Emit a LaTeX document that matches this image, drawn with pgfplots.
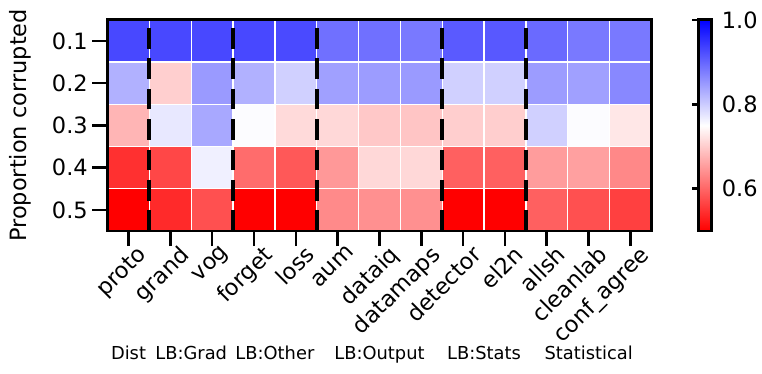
\documentclass[border=0pt]{standalone}
\usepackage{fontspec}
\setmainfont{DejaVu Sans}
\usepackage{pgfplots}
\pgfplotsset{compat=1.18}

% fraction of clean-label detection per method (rows: proportion corrupted)
\pgfplotstableread{
x y c
0 0 0.930
1 0 0.930
2 0 0.930
3 0 0.930
4 0 0.928
5 0 0.890
6 0 0.890
7 0 0.882
8 0 0.912
9 0 0.914
10 0 0.896
11 0 0.882
12 0 0.882
0 1 0.827
1 1 0.703
2 1 0.849
3 1 0.827
4 1 0.796
5 1 0.843
6 1 0.847
7 1 0.849
8 1 0.796
9 1 0.796
10 1 0.847
11 1 0.843
12 1 0.867
0 2 0.678
1 2 0.773
2 2 0.835
3 2 0.753
4 2 0.714
5 2 0.712
6 2 0.696
7 2 0.693
8 2 0.702
9 2 0.702
10 2 0.796
11 2 0.753
12 2 0.727
0 3 0.547
1 3 0.570
2 3 0.765
3 3 0.606
4 3 0.586
5 3 0.649
6 3 0.712
7 3 0.712
8 3 0.594
9 3 0.594
10 3 0.653
11 3 0.657
12 3 0.633
0 4 0.500
1 4 0.541
2 4 0.578
3 4 0.500
4 4 0.500
5 4 0.635
6 4 0.641
7 4 0.641
8 4 0.500
9 4 0.500
10 4 0.594
11 4 0.578
12 4 0.563
}\heat

\begin{document}
\begin{tikzpicture}
\begin{axis}[
    at={(0,0)}, anchor=south west,
    scale only axis,
    width=411.4pt, height=159.75pt,
    xmin=-0.5, xmax=12.5,
    ymin=-0.5, ymax=4.5,
    y dir=reverse,
    enlargelimits=false,
    clip=false,
    axis on top,
    axis line style={line width=2.2pt},
    tick style={black, line width=2pt},
    major tick length=11.5pt,
    tick align=outside,
    xtick pos=bottom, ytick pos=left,
    xtick={0,...,12},
    xticklabels={proto,grand,vog,forget,loss,aum,dataiq,datamaps,detector,el2n,allsh,cleanlab,conf\_agree},
    xticklabel style={rotate=45, anchor=north east, inner sep=1pt, xshift=6.5pt, yshift=-2pt},
    ytick={0,...,4},
    yticklabels={0.1,0.2,0.3,0.4,0.5},
    ticklabel style={font=\fontsize{17}{20}\selectfont},
    ylabel={Proportion corrupted},
    ylabel style={at={(axis description cs:-0.16,0.5)}, anchor=center, font=\fontsize{17}{20}\selectfont},
    colormap={bwr}{rgb=(1,0,0) rgb=(1,1,1) rgb=(0,0,1)},
    point meta min=0.5, point meta max=1.0,
    colorbar,
    colorbar style={
        at={(parent axis.north east)}, anchor=north west, xshift=27pt,
        scale only axis,
        width=9.75pt, height=159.75pt,
        axis line style={line width=2.2pt},
        ytick={0.6,0.8,1.0},
        yticklabels={0.6,0.8,1.0},
        yticklabel pos=right,
        ytick pos=left,
        major tick length=4.5pt,
        tick align=outside,
        tick style={black, line width=2pt},
        yticklabel style={font=\fontsize{17}{20}\selectfont},
    },
]
\addplot[matrix plot*, mesh/cols=13, mesh/rows=5, point meta=explicit,
    draw=white, line width=1pt] table[meta=c] {\heat};

% group separators
\addplot[black, line width=3pt, dash pattern=on 15.5pt off 7.5pt] coordinates {(0.5,4.5) (0.5,-0.5)};
\addplot[black, line width=3pt, dash pattern=on 15.5pt off 7.5pt] coordinates {(2.5,4.5) (2.5,-0.5)};
\addplot[black, line width=3pt, dash pattern=on 15.5pt off 7.5pt] coordinates {(4.5,4.5) (4.5,-0.5)};
\addplot[black, line width=3pt, dash pattern=on 15.5pt off 7.5pt] coordinates {(7.5,4.5) (7.5,-0.5)};
\addplot[black, line width=3pt, dash pattern=on 15.5pt off 7.5pt] coordinates {(9.5,4.5) (9.5,-0.5)};

% group names
\node[anchor=base, yshift=-97.5pt, font=\fontsize{13.5}{16}\selectfont] at (axis cs:0,4.5) {Dist};
\node[anchor=base, yshift=-97.5pt, font=\fontsize{13.5}{16}\selectfont] at (axis cs:1.5,4.5) {LB:Grad};
\node[anchor=base, yshift=-97.5pt, font=\fontsize{13.5}{16}\selectfont] at (axis cs:3.5,4.5) {LB:Other};
\node[anchor=base, yshift=-97.5pt, font=\fontsize{13.5}{16}\selectfont] at (axis cs:6,4.5) {LB:Output};
\node[anchor=base, yshift=-97.5pt, font=\fontsize{13.5}{16}\selectfont] at (axis cs:8.5,4.5) {LB:Stats};
\node[anchor=base, yshift=-97.5pt, font=\fontsize{13.5}{16}\selectfont] at (axis cs:11,4.5) {Statistical};
\end{axis}
% fix the frame to the reference proportions
\path (-81.4pt,-108pt) rectangle (490.1pt,174.75pt);
\end{tikzpicture}
\end{document}
